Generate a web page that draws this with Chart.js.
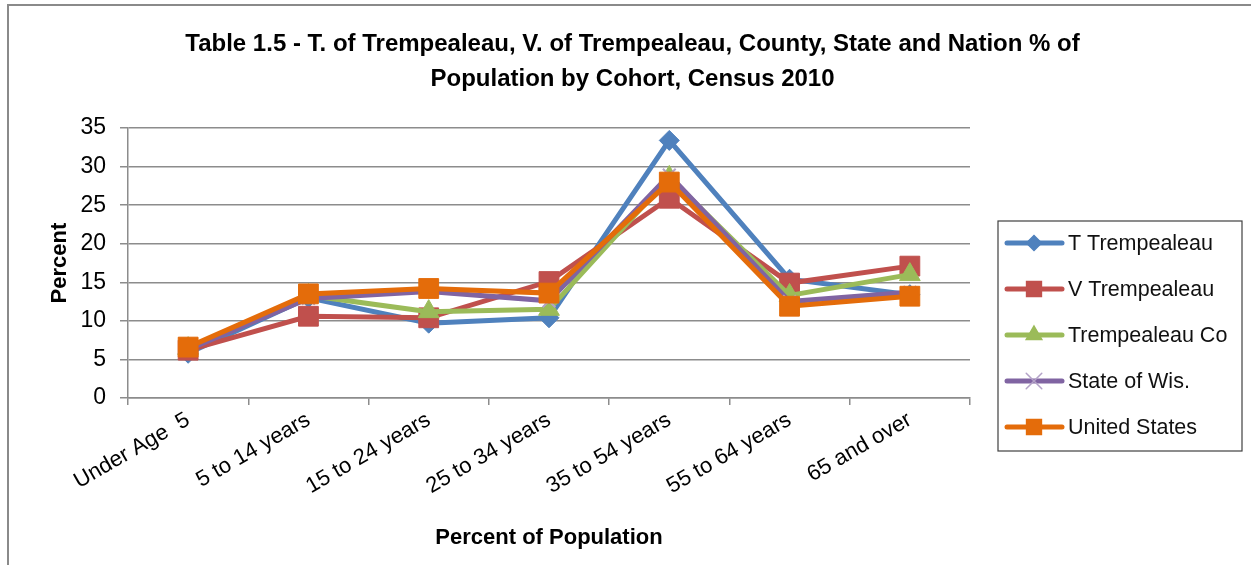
<!DOCTYPE html>
<html>
<head>
<meta charset="utf-8">
<script src="https://cdn.jsdelivr.net/npm/chart.js@4/dist/chart.umd.min.js"></script>
<style>
  html, body { margin: 0; padding: 0; background: #fff; }
  #wrap { position: relative; width: 1251px; height: 565px; }
</style>
</head>
<body>
<div id="wrap"><canvas id="cohortChart" width="1251" height="565"></canvas></div>
<script>
const cohorts = ['Under Age  5', '5 to 14 years', '15 to 24 years', '25 to 34 years', '35 to 54 years', '55 to 64 years', '65 and over'];

const townTrempealeau = [5.8, 13.0, 9.7, 10.4, 33.4, 15.4, 13.4];
const villageTrempealeau = [6.2, 10.6, 10.4, 15.1, 25.9, 14.9, 17.1];
const trempealeauCounty = [6.4, 13.3, 11.2, 11.5, 28.6, 13.3, 16.0];
const stateOfWis = [6.3, 12.9, 13.8, 12.6, 28.9, 12.5, 13.7];
const unitedStates = [6.6, 13.5, 14.2, 13.6, 28.0, 11.9, 13.2];

const seriesNames = ['T Trempealeau', 'V Trempealeau', 'Trempealeau Co', 'State of Wis.', 'United States'];
const yTicks = [0, 5, 10, 15, 20, 25, 30, 35];

const seriesValues = [townTrempealeau, villageTrempealeau, trempealeauCounty, stateOfWis, unitedStates];
const colors = ['#4F81BD', '#C0504D', '#9BBB59', '#8064A2', '#E46C0A'];
const markers = ['rectRot', 'rect', 'triangle', 'crossRot', 'rect'];
const markerSize = [10, 14, 12, 9, 14];

const gridGray = '#8c8c8c';
const font = 'Liberation Sans, Arial, sans-serif';

// legend drawn by hand so the sample shows line + marker inside a box
const boxLegend = {
    id: 'boxLegend',
    afterDraw(chart) {
        const ctx = chart.ctx;
        const left = chart.chartArea.right + 28;
        const top = 221;
        ctx.save();
        ctx.strokeStyle = '#404040';
        ctx.lineWidth = 1.2;
        ctx.strokeRect(left, top, 244, 230);
        chart.data.datasets.forEach(function (ds, i) {
            const y = top + 22 + i * 46;
            ctx.strokeStyle = ds.borderColor;
            ctx.lineWidth = 5;
            ctx.lineCap = 'round';
            ctx.beginPath();
            ctx.moveTo(left + 9, y);
            ctx.lineTo(left + 64, y);
            ctx.stroke();
            ctx.fillStyle = ds.borderColor;
            ctx.strokeStyle = ds.pointBorderColor;
            ctx.lineWidth = 1.5;
            Chart.helpers.drawPoint(ctx, {
                pointStyle: ds.pointStyle,
                radius: ds.pointStyle === 'crossRot' ? 11 : ds.pointRadius * 0.75,
                borderWidth: 1.5,
                rotation: 0
            }, left + 36, y);
            ctx.fillStyle = '#111';
            ctx.font = '21.5px ' + font;
            ctx.textBaseline = 'middle';
            ctx.fillText(ds.label, left + 70, y + 1);
        });
        ctx.restore();
    },
    beforeDraw(chart) {
        const ctx = chart.ctx;
        ctx.save();
        ctx.strokeStyle = '#8a8a8a';
        ctx.lineWidth = 2;
        ctx.beginPath();
        ctx.moveTo(8, 565);
        ctx.lineTo(8, 5);
        ctx.lineTo(1251, 5);
        ctx.stroke();
        ctx.restore();
    }
};

const datasets = seriesNames.map(function (name, i) {
    return {
        label: name,
        data: seriesValues[i],
        borderColor: colors[i],
        backgroundColor: colors[i],
        pointBackgroundColor: colors[i],
        pointBorderColor: i === 3 ? '#b3a2c7' : colors[i],
        pointBorderWidth: i === 3 ? 2 : 1,
        borderWidth: 5,
        pointStyle: markers[i],
        pointRadius: markerSize[i],
        pointHoverRadius: markerSize[i],
        tension: 0,
        order: seriesNames.length - i
    };
});

new Chart(document.getElementById('cohortChart'), {
    type: 'line',
    data: { labels: cohorts, datasets: datasets },
    plugins: [boxLegend],
    options: {
        responsive: false,
        animation: false,
        layout: { padding: { left: 20, right: 6, top: 12, bottom: 8 } },
        plugins: {
            legend: { display: false },
            tooltip: { enabled: false },
            title: {
                display: true,
                text: ['Table 1.5 - T. of Trempealeau, V. of Trempealeau, County, State and Nation % of', 'Population by Cohort, Census 2010'],
                color: '#000',
                font: { family: font, size: 24, weight: 'bold', lineHeight: 1.46 },
                padding: { top: 15, bottom: 31 }
            }
        },
        scales: {
            x: {
                offset: true,
                grid: { display: true, drawOnChartArea: false, drawTicks: true, tickLength: 7, offset: true, color: gridGray, lineWidth: 1.5 },
                border: { display: true, color: gridGray, width: 1.5 },
                ticks: { color: '#000', font: { family: font, size: 22 }, minRotation: 30, maxRotation: 30, padding: 2 },
                title: { display: true, text: 'Percent of Population', color: '#000', font: { family: font, size: 22, weight: 'bold' }, padding: { top: 0, bottom: 6 } },
                afterFit(scale) { scale.height = 159; }
            },
            y: {
                min: 0,
                max: 35,
                afterBuildTicks(scale) { scale.ticks = yTicks.map(v => ({ value: v })); },
                grid: { color: gridGray, lineWidth: 1.5, tickLength: 8 },
                border: { display: true, color: gridGray, width: 1.5 },
                ticks: { color: '#000', font: { family: font, size: 23 }, padding: 14 },
                title: { display: true, text: 'Percent', color: '#000', font: { family: font, size: 22, weight: 'bold' }, padding: { top: 27, bottom: 0 } },
                afterFit(scale) { scale.width = 108; }
            },
            spacer: {
                position: 'right',
                display: true,
                grid: { display: false },
                border: { display: false },
                ticks: { display: false },
                afterFit(scale) { scale.width = 275; }
            }
        }
    }
});
</script>
</body>
</html>
